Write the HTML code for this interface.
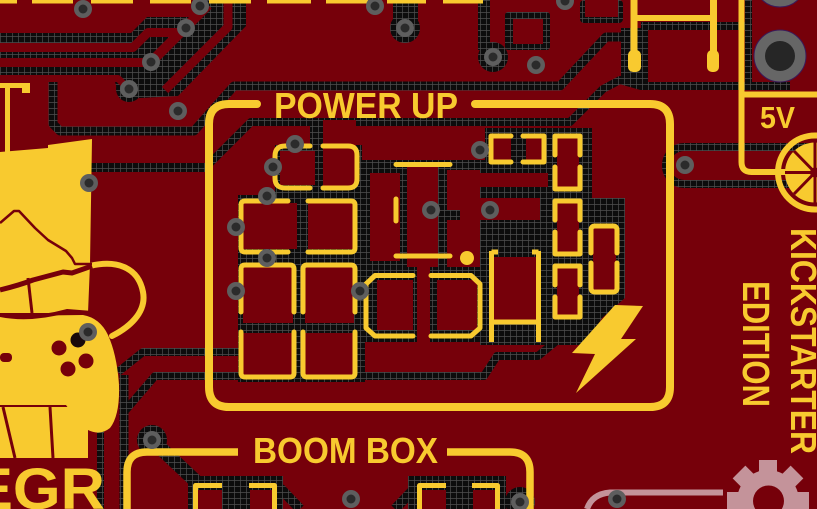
<!DOCTYPE html>
<html><head><meta charset="utf-8">
<style>html,body{margin:0;padding:0;background:#76000a;overflow:hidden;width:817px;height:509px}svg{display:block;overflow:hidden}
text{font-family:"Liberation Sans",sans-serif;font-weight:bold;fill:#f8ca2f}</style></head>
<body>
<svg width="817" height="509" viewBox="0 0 817 509" xmlns="http://www.w3.org/2000/svg">
<defs>
<pattern id="g" width="6" height="6" patternUnits="userSpaceOnUse">
<rect width="6" height="6" fill="#0c0c0c"/>
<path d="M0 0.5H6M0.5 0V6" stroke="#4e4e4e" stroke-width="0.7"/>
</pattern>
<clipPath id="frame"><rect width="817" height="509"/></clipPath>
</defs>
<g clip-path="url(#frame)">
<rect width="817" height="509" fill="#76000a"/>

<!-- black mesh regions -->
<g fill="url(#g)">
<polygon points="0,33 131,33 147,17 195,17 203,0 246,0 246,26 178,96 140,98 118,92 115,82 17,82 17,75 0,75"/>
<rect x="393" y="0" width="25" height="28"/>
<circle cx="405" cy="28" r="15"/>
<rect x="478" y="0" width="12" height="50"/>
<circle cx="493" cy="57" r="15"/>
<rect x="505" y="12" width="45" height="38" rx="3"/>
<rect x="580" y="0" width="43" height="23" rx="4"/>
<rect x="621" y="28" width="27" height="55"/>
<rect x="641" y="22" width="110" height="8"/>
<rect x="745" y="0" width="7" height="90"/>
<rect x="662" y="143" width="170" height="45" rx="22"/>
<rect x="310" y="120" width="13" height="30"/>
<rect x="275" y="145" width="87" height="53"/>
<rect x="238" y="195" width="127" height="187"/>
<rect x="358" y="160" width="132" height="182"/>
<polygon points="485,128 592,128 592,198 625,198 625,298 602,318 585,345 480,345 480,232 460,232 460,165 485,165"/>
<rect x="188" y="476" width="95" height="33"/>
<rect x="408" y="476" width="98" height="33"/>
<circle cx="520" cy="502" r="15"/>
<circle cx="152" cy="440" r="15"/>
<circle cx="129" cy="89" r="13"/>
<rect x="97" y="430" width="7" height="79"/>
</g>
<g fill="none" stroke="url(#g)" stroke-linejoin="round">
<path d="M53,78 V124 L60,131 H194 L234,86 H560 L606,37 H630" stroke-width="9"/>
<path d="M208,165 L251,122 H570 L603,89 L620,80 L641,86 H790" stroke-width="8"/>
<path d="M90,167.5 H206" stroke-width="9"/>
<path d="M118,372 L143,352 H245" stroke-width="8"/>
<path d="M124,375 V509" stroke-width="9"/>
<path d="M124,412 L155,376 H484 L497,356 H538 L560,338 L600,312" stroke-width="8"/>
<path d="M152,440 L205,490" stroke-width="14"/>
<path d="M280,488 L300,509" stroke-width="10"/>
<path d="M395,509 L418,485" stroke-width="10"/>
</g>

<!-- red traces / pads over mesh -->
<g fill="none" stroke="#76000a" stroke-linejoin="round">
<polyline points="0,47.5 133,47.5 148,32.5 182,32.5" stroke-width="9"/>
<polyline points="0,62.5 151,62.5" stroke-width="9"/>
<polyline points="151,62 208,5" stroke-width="10"/>
<polyline points="0,78.5 118,78.5 129,89" stroke-width="7"/>
<polyline points="165,90 228,27 228,0" stroke-width="9"/>
</g>
<g fill="#76000a">
<rect x="670" y="151" width="170" height="29" rx="14"/>
<rect x="280" y="151" width="35" height="34"/>
<rect x="323" y="120" width="33" height="67"/>
<rect x="243" y="203" width="54" height="46"/>
<rect x="308" y="203" width="49" height="46"/>
<rect x="243" y="267" width="50" height="56"/>
<rect x="243" y="333" width="50" height="44"/>
<rect x="305" y="267" width="49" height="56"/>
<rect x="305" y="333" width="49" height="44"/>
<rect x="370" y="173" width="30" height="88"/>
<rect x="407" y="165" width="31" height="102"/>
<rect x="447" y="170" width="33" height="40"/>
<rect x="447" y="220" width="33" height="47"/>
<rect x="377" y="280" width="36" height="50"/>
<rect x="437" y="280" width="40" height="50"/>
<rect x="417" y="262" width="13" height="80"/>
<rect x="492" y="137" width="19" height="25"/>
<rect x="526" y="137" width="18" height="25"/>
<rect x="557" y="137" width="22" height="52"/>
<rect x="557" y="202" width="22" height="52"/>
<rect x="557" y="267" width="22" height="50"/>
<rect x="494" y="257" width="43" height="63"/>
<rect x="593" y="228" width="23" height="62"/>
<rect x="460" y="173" width="88" height="14"/>
<rect x="460" y="198" width="80" height="22"/>
<rect x="513" y="19" width="30" height="25"/>
<rect x="585" y="0" width="33" height="17"/>
<rect x="197" y="490" width="25" height="19"/>
<rect x="250" y="490" width="24" height="19"/>
<rect x="421" y="490" width="25" height="19"/>
<rect x="473" y="490" width="24" height="19"/>
</g>

<!-- top silkscreen dashes -->
<g fill="#f8ca2f">
<rect x="0" y="0" width="17" height="3.5"/><rect x="32" y="0" width="41" height="3.5"/>
<rect x="91" y="0" width="42" height="3.5"/><rect x="150" y="0" width="41" height="3.5"/>
<rect x="209" y="0" width="42" height="3.5"/><rect x="267" y="0" width="44" height="3.5"/>
<rect x="326" y="0" width="42" height="3.5"/><rect x="387" y="0" width="39" height="3.5"/>
<rect x="443" y="0" width="40" height="3.5"/>
</g>

<!-- yellow outlines -->
<g fill="none" stroke="#f8ca2f" stroke-linecap="round" stroke-linejoin="round">
<path d="M257,104 H229 Q209,104 209,124 V387 Q209,407 229,407 H650 Q670,407 670,387 V124 Q670,104 650,104 H475" stroke-width="8"/>
<path d="M238,452 H147 Q127,452 127,472 V509 M447,452 H510 Q530,452 530,472 V509" stroke-width="7.5" stroke-linecap="butt"/>
<g stroke-width="5">
<path d="M310,146 H285 Q275,146 275,156 V178 Q275,188 285,188 H310"/>
<path d="M323,146 H348 Q357,146 357,155 V179 Q357,188 348,188 H323"/>
<path d="M288,201 H245 Q241,201 241,205 V248 Q241,252 245,252 H288"/>
<path d="M308,201 H351 Q355,201 355,205 V248 Q355,252 351,252 H308"/>
<path d="M241,312 V269 Q241,265 245,265 H290 Q294,265 294,269 V312 M241,332 V373 Q241,377 245,377 H290 Q294,377 294,373 V332"/>
<path d="M303,312 V269 Q303,265 307,265 H351 Q355,265 355,269 V312 M303,332 V373 Q303,377 307,377 H351 Q355,377 355,373 V332"/>
<path d="M396,164.5 H450 M396,256 H450 M396,199 V221"/>
<path d="M413,275.5 H375 L366,284 V328 L375,336 H413 M431,275.5 H471 L480,284 V328 L471,336 H431"/>
<path d="M491.5,251 V342 M538.5,251 V342 M491.5,322 H538.5 M491.5,252 H498 M538.5,252 H532" stroke-linecap="butt"/>
<path d="M511,136 H491 V162 H511 M523,136 H544 V162 H523"/>
<path d="M555,155 V136 H580 V155 M555,167 V189 H580 V167"/>
<path d="M555,220 V201 H580 V220 M555,232 V254 H580 V232"/>
<path d="M555,285 V266 H580 V285 M555,297 V317 H580 V297"/>
<path d="M591,253 V230 Q591,226 595,226 H613 Q617,226 617,230 V253 M591,263 V288 Q591,292 595,292 H613 Q617,292 617,288 V263"/>
<path d="M195.5,509 V485.5 H222 M249,485.5 H274.5 V509 M419.5,509 V485.5 H446 M472,485.5 H497.5 V509" stroke-linecap="butt"/>
</g>
<path d="M634,0 V55" stroke-width="7"/>
<path d="M634,18 H713.5" stroke-width="6"/>
<path d="M713.5,0 V55" stroke-width="7"/>
<path d="M741.5,0 V162 Q741.5,172 751.5,172 H785 M741.5,94.5 H817" stroke-width="6"/>
<circle cx="815" cy="172.5" r="37" stroke-width="6"/>
<path d="M90,266 C115,260 138,266 143,292 C147,313 128,328 112,336" stroke-width="6"/>
</g>
<g fill="#f8ca2f">
<rect x="628" y="50" width="13" height="22" rx="5"/>
<rect x="707" y="50" width="12" height="22" rx="5"/>
<circle cx="467" cy="258" r="7"/>
<circle cx="815" cy="172.5" r="30"/>
<polygon points="615,305 643,306 621,339 636,339 576,393 595,354 572,353"/>
<!-- logo -->
<rect x="0" y="83" width="30" height="5"/>
<rect x="22" y="83" width="8" height="10"/>
<rect x="5" y="83" width="5" height="69"/>
<polygon points="0,152 48,148 48,145 92,139 90,264 88,313 0,313"/>
<path d="M0,316 L83,315 Q100,318 108,335 Q117,355 119,385 Q120,415 110,428 Q100,436 88,430 Q78,422 66,405 L0,405 Z"/>
<rect x="0" y="407" width="88" height="51"/>
</g>
<g fill="none" stroke="#76000a" stroke-linejoin="round">
<path d="M0,223 L14,211 L19,211 L35,228 L48,240 L66,251 L72,258 L75,264 L92,264" stroke-width="2.5"/>
<path d="M0,290 Q20,285 33,280 L63,272 L72,273 L92,266" stroke-width="5"/>
<path d="M28,278 L32,313" stroke-width="3"/>
<path d="M0,315 Q30,321 67,311 L92,313" stroke-width="4"/>
<path d="M3,407 L15,458 M50,407 L53,458" stroke-width="3"/>
<path d="M815,172.5 L845,172.5 M815,172.5 L836,151 M815,172.5 L815,142 M815,172.5 L794,151 M815,172.5 L785,172.5 M815,172.5 L794,194 M815,172.5 L815,203 M815,172.5 L836,194" stroke-width="3"/>
</g>
<g fill="#76000a">
<circle cx="815" cy="172.5" r="5"/>
<circle cx="59" cy="348" r="7.5"/><circle cx="86" cy="361" r="7.5"/>
<circle cx="68" cy="369" r="7.5"/><circle cx="78" cy="340" r="7.5" fill="#1a0a0a"/>
<rect x="0" y="353" width="12" height="9" rx="4"/>
</g>

<!-- pink gear & trace -->
<g fill="#c4939a">
<circle cx="768" cy="501" r="31"/>
<rect x="759" y="460" width="18" height="14" transform="rotate(0 768 501)"/>
<rect x="759" y="460" width="18" height="14" transform="rotate(45 768 501)"/>
<rect x="759" y="460" width="18" height="14" transform="rotate(90 768 501)"/>
<rect x="759" y="460" width="18" height="14" transform="rotate(135 768 501)"/>
<rect x="759" y="460" width="18" height="14" transform="rotate(180 768 501)"/>
<rect x="759" y="460" width="18" height="14" transform="rotate(225 768 501)"/>
<rect x="759" y="460" width="18" height="14" transform="rotate(270 768 501)"/>
<rect x="759" y="460" width="18" height="14" transform="rotate(315 768 501)"/>
</g>
<circle cx="768.5" cy="501" r="15.5" fill="#76000a"/>
<path d="M723,492.5 H610 Q592,494 587,509" fill="none" stroke="#c4939a" stroke-width="6"/>

<!-- vias -->
<g fill="#5e5e5e">
<circle cx="83" cy="9" r="9"/><circle cx="200" cy="6" r="9"/><circle cx="186" cy="28" r="9"/>
<circle cx="151" cy="62" r="9"/><circle cx="129" cy="89" r="9"/><circle cx="178" cy="111" r="9"/>
<circle cx="375" cy="6" r="9"/><circle cx="405" cy="28" r="9"/><circle cx="89" cy="183" r="9"/>
<circle cx="295" cy="144" r="9"/><circle cx="273" cy="167" r="9"/><circle cx="267" cy="196" r="9"/>
<circle cx="236" cy="227" r="9"/><circle cx="267" cy="258" r="9"/><circle cx="236" cy="291" r="9"/>
<circle cx="360" cy="291" r="9"/><circle cx="431" cy="210" r="9"/><circle cx="490" cy="210" r="9"/>
<circle cx="480" cy="150" r="9"/><circle cx="493" cy="57" r="9"/><circle cx="536" cy="65" r="9"/>
<circle cx="565" cy="1" r="9"/><circle cx="685" cy="165" r="9"/><circle cx="88" cy="332" r="9"/>
<circle cx="152" cy="440" r="9"/><circle cx="351" cy="499" r="9"/><circle cx="520" cy="502" r="9"/>
<circle cx="617" cy="499" r="9"/>
</g>
<g fill="#2b2b2b">
<circle cx="83" cy="9" r="4.5"/><circle cx="200" cy="6" r="4.5"/><circle cx="186" cy="28" r="4.5"/>
<circle cx="151" cy="62" r="4.5"/><circle cx="129" cy="89" r="4.5"/><circle cx="178" cy="111" r="4.5"/>
<circle cx="375" cy="6" r="4.5"/><circle cx="405" cy="28" r="4.5"/><circle cx="89" cy="183" r="4.5"/>
<circle cx="295" cy="144" r="4.5"/><circle cx="273" cy="167" r="4.5"/><circle cx="267" cy="196" r="4.5"/>
<circle cx="236" cy="227" r="4.5"/><circle cx="267" cy="258" r="4.5"/><circle cx="236" cy="291" r="4.5"/>
<circle cx="360" cy="291" r="4.5"/><circle cx="431" cy="210" r="4.5"/><circle cx="490" cy="210" r="4.5"/>
<circle cx="480" cy="150" r="4.5"/><circle cx="493" cy="57" r="4.5"/><circle cx="536" cy="65" r="4.5"/>
<circle cx="565" cy="1" r="4.5"/><circle cx="685" cy="165" r="4.5"/><circle cx="88" cy="332" r="4.5"/>
<circle cx="152" cy="440" r="4.5"/><circle cx="351" cy="499" r="4.5"/><circle cx="520" cy="502" r="4.5"/>
<circle cx="617" cy="499" r="4.5"/>
</g>
<circle cx="780" cy="-19" r="26" fill="#666" stroke="#3a1a5a" stroke-width="1"/>
<circle cx="780" cy="-19" r="15" fill="#262626"/>
<circle cx="780" cy="56" r="26" fill="#666" stroke="#3a1a5a" stroke-width="1"/>
<circle cx="780" cy="56" r="15" fill="#262626"/>

<!-- text -->
<text x="274" y="118" font-size="36" textLength="184" lengthAdjust="spacingAndGlyphs">POWER UP</text>
<text x="253" y="463" font-size="36" textLength="185" lengthAdjust="spacingAndGlyphs">BOOM BOX</text>
<text x="760" y="128" font-size="31" textLength="35" lengthAdjust="spacingAndGlyphs">5V</text>
<text transform="translate(791,228) rotate(90)" font-size="36" textLength="226" lengthAdjust="spacingAndGlyphs">KICKSTARTER</text>
<text transform="translate(743,281) rotate(90)" font-size="38" textLength="126" lengthAdjust="spacingAndGlyphs">EDITION</text>
<text x="-28" y="509" font-size="58" textLength="133" lengthAdjust="spacingAndGlyphs">EGR</text>
</g>
</svg>
</body></html>
